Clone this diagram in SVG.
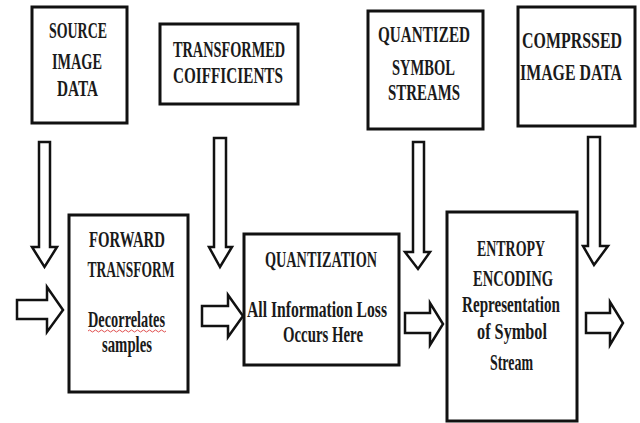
<svg xmlns="http://www.w3.org/2000/svg" width="640" height="423" viewBox="0 0 640 423">
<style>
.box{fill:#fff;stroke:#111;stroke-width:3}
.arr{fill:#fff;stroke:#111;stroke-width:2.5;stroke-linejoin:miter}
text{font-family:"Liberation Serif","Times New Roman",serif;font-weight:bold;font-size:16px;fill:#1a1a1a;text-anchor:middle}
</style>
<rect width="640" height="423" fill="#fff"/>
<g id="connectors">
<polygon class="arr" points="39,142 50,142 50,247 57,247 44.5,267 32,247 39,247"/>
<polygon class="arr" points="214,138 226,138 226,247 232,247 220,267 209,247 214,247"/>
<polygon class="arr" points="413,142 424,142 424,252 430,252 418,269 405,252 413,252"/>
<polygon class="arr" points="588,137 600,137 600,246 608,246 594,265 583,246 588,246"/>
<polygon class="arr" points="17,300 47,300 47,287 63,310 47,332 47,319 17,319"/>
<polygon class="arr" points="202,306 228,306 228,295 243,316 228,337 228,326 202,326"/>
<polygon class="arr" points="405,313 430,313 430,303 443,324 430,345 430,333 405,333"/>
<polygon class="arr" points="586,313 610,313 610,302 623,323 610,345 610,333 586,333"/>
</g>
<g id="source">
<rect class="box" x="32" y="7" width="95" height="116"/>
<text transform="translate(78,38) scale(1,1.5)" textLength="58" lengthAdjust="spacingAndGlyphs">SOURCE</text>
<text transform="translate(77,69) scale(1,1.5)" textLength="50" lengthAdjust="spacingAndGlyphs">IMAGE</text>
<text transform="translate(77.5,96) scale(1,1.5)" textLength="41" lengthAdjust="spacingAndGlyphs">DATA</text>
</g>
<g id="transformed">
<rect class="box" x="160" y="24" width="138" height="80"/>
<text transform="translate(229,57) scale(1,1.5)" textLength="112" lengthAdjust="spacingAndGlyphs">TRANSFORMED</text>
<text transform="translate(228,83) scale(1,1.5)" textLength="110" lengthAdjust="spacingAndGlyphs">COIFFICIENTS</text>
</g>
<g id="quantized">
<rect class="box" x="368" y="11" width="115" height="118"/>
<text transform="translate(424,42) scale(1,1.5)" textLength="92" lengthAdjust="spacingAndGlyphs">QUANTIZED</text>
<text transform="translate(423.5,75) scale(1,1.5)" textLength="63" lengthAdjust="spacingAndGlyphs">SYMBOL</text>
<text transform="translate(424,100) scale(1,1.5)" textLength="72" lengthAdjust="spacingAndGlyphs">STREAMS</text>
</g>
<g id="compressed">
<rect class="box" x="518" y="7" width="117" height="119"/>
<text transform="translate(572,48) scale(1,1.5)" textLength="100" lengthAdjust="spacingAndGlyphs">COMPRSSED</text>
<text transform="translate(571,80) scale(1,1.5)" textLength="102" lengthAdjust="spacingAndGlyphs">IMAGE DATA</text>
</g>
<g id="forward">
<rect class="box" x="69" y="215" width="119" height="177"/>
<text transform="translate(127,247) scale(1,1.5)" textLength="76" lengthAdjust="spacingAndGlyphs">FORWARD</text>
<text transform="translate(131,277) scale(1,1.5)" textLength="87" lengthAdjust="spacingAndGlyphs">TRANSFORM</text>
<text transform="translate(126.5,327) scale(1,1.5)" textLength="77" lengthAdjust="spacingAndGlyphs">Decorrelates</text>
<path d="M88,331 q1.5,-2 3,0 t3,0 t3,0 t3,0 t3,0 t3,0 t3,0 t3,0 t3,0 t3,0 t3,0 t3,0 t3,0 t3,0 t3,0 t3,0 t3,0 t3,0 t3,0 t3,0 t3,0 t3,0 t3,0 t3,0 t3,0 t3,0" fill="none" stroke="#e05050" stroke-width="1"/>
<text transform="translate(127,352) scale(1,1.5)" textLength="50" lengthAdjust="spacingAndGlyphs">samples</text>
</g>
<g id="quantization">
<rect class="box" x="244" y="234" width="155" height="131"/>
<text transform="translate(321,267) scale(1,1.5)" textLength="112" lengthAdjust="spacingAndGlyphs">QUANTIZATION</text>
<text transform="translate(317,317) scale(1,1.4)" textLength="140" lengthAdjust="spacingAndGlyphs">All Information Loss</text>
<text transform="translate(323,342) scale(1,1.4)" textLength="80" lengthAdjust="spacingAndGlyphs">Occurs Here</text>
</g>
<g id="entropy">
<rect class="box" x="447" y="212" width="130" height="209"/>
<text transform="translate(511,256) scale(1,1.5)" textLength="68" lengthAdjust="spacingAndGlyphs">ENTROPY</text>
<text transform="translate(513,286) scale(1,1.5)" textLength="80" lengthAdjust="spacingAndGlyphs">ENCODING</text>
<text transform="translate(511,312) scale(1,1.5)" textLength="98" lengthAdjust="spacingAndGlyphs">Representation</text>
<text transform="translate(512,339) scale(1,1.5)" textLength="70" lengthAdjust="spacingAndGlyphs">of Symbol</text>
<text transform="translate(511.5,370) scale(1,1.5)" textLength="43" lengthAdjust="spacingAndGlyphs">Stream</text>
</g>
</svg>
